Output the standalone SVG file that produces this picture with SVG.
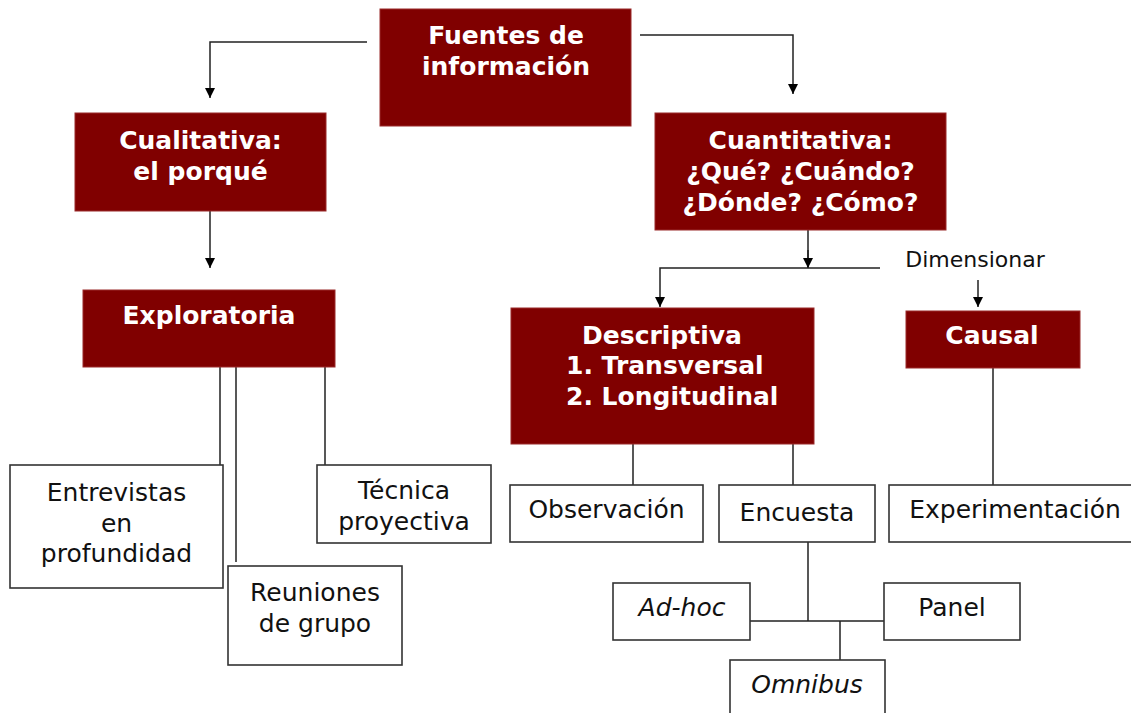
<svg xmlns="http://www.w3.org/2000/svg" width="1131" height="713" viewBox="0 0 1131 713">
<defs>
<marker id="arr" viewBox="0 0 10 10" refX="10" refY="5" markerWidth="10" markerHeight="10" markerUnits="userSpaceOnUse" orient="auto">
<path d="M0,0 L10,5 L0,10 z" fill="#000"/>
</marker>
<style>
.red{fill:#800000;stroke:#9a2a2a;stroke-width:1}
.wb{fill:#fff;stroke:#333;stroke-width:1.6}
.rt{font-family:"DejaVu Sans",Verdana,sans-serif;font-weight:bold;font-size:25px;fill:#fff;text-anchor:middle}
.vt{font-family:"DejaVu Sans",Verdana,sans-serif;font-size:25px;fill:#111;text-anchor:middle}
.tt{font-family:"DejaVu Sans",sans-serif;font-size:25px;fill:#111;text-anchor:middle}
.it{font-style:italic}
.ln{fill:none;stroke:#222;stroke-width:1.5}
</style>
</defs>
<rect width="1131" height="713" fill="#fff"/>
<g id="connectors">
<path class="ln" d="M367,42 H210 V98" marker-end="url(#arr)"/>
<path class="ln" d="M640,35 H793 V94" marker-end="url(#arr)"/>
<path class="ln" d="M210,211 V268" marker-end="url(#arr)"/>
<path class="ln" d="M808,230 V268"/>
<path class="ln" d="M808,250 V268" marker-end="url(#arr)"/>
<path class="ln" d="M880,268 H660 V307" marker-end="url(#arr)"/>
<path class="ln" d="M978,280 V307" marker-end="url(#arr)"/>
<path class="ln" d="M220,367 V465 M236,367 V562 M325,367 V465"/>
<path class="ln" d="M633,444 V485 M793,444 V485 M993,368 V485"/>
<path class="ln" d="M808,542 V621 M750,621 H884 M840,621 V660"/>
</g>
<g id="fuentes"><rect class="red" x="380" y="9" width="251" height="117"/>
<text class="rt" x="506" y="44">Fuentes de</text><text class="rt" x="506" y="75">información</text></g>
<g id="cualitativa"><rect class="red" x="75" y="113" width="251" height="98"/>
<text class="rt" x="200.5" y="149">Cualitativa:</text><text class="rt" x="200.5" y="180">el porqué</text></g>
<g id="cuantitativa"><rect class="red" x="655" y="113" width="291" height="117"/>
<text class="rt" x="800.5" y="149">Cuantitativa:</text><text class="rt" x="800.5" y="180">¿Qué? ¿Cuándo?</text><text class="rt" x="800.5" y="211">¿Dónde? ¿Cómo?</text></g>
<g id="exploratoria"><rect class="red" x="83" y="290" width="252" height="77"/>
<text class="rt" x="209" y="324">Exploratoria</text></g>
<g id="descriptiva"><rect class="red" x="511" y="308" width="303" height="136"/>
<text class="rt" x="662" y="344">Descriptiva</text><text class="rt" x="566" y="374" style="text-anchor:start">1. Transversal</text><text class="rt" x="566" y="405" style="text-anchor:start">2. Longitudinal</text></g>
<g id="causal"><rect class="red" x="906" y="311" width="174" height="57"/>
<text class="rt" x="992" y="344">Causal</text></g>
<g id="dimensionar"><text class="tt" x="975" y="267" style="font-size:22px">Dimensionar</text></g>
<g id="entrevistas"><rect class="wb" x="10" y="465" width="213" height="123"/>
<text class="vt" x="116.5" y="501">Entrevistas</text><text class="vt" x="116.5" y="532">en</text><text class="vt" x="116.5" y="562">profundidad</text></g>
<g id="reuniones"><rect class="wb" x="228" y="566" width="174" height="99"/>
<text class="vt" x="315" y="601">Reuniones</text><text class="vt" x="315" y="632">de grupo</text></g>
<g id="tecnica"><rect class="wb" x="317" y="465" width="174" height="78"/>
<text class="vt" x="404" y="499">Técnica</text><text class="vt" x="404" y="530">proyectiva</text></g>
<g id="observacion"><rect class="wb" x="510" y="485" width="193" height="57"/>
<text class="tt" x="606.5" y="518">Observación</text></g>
<g id="encuesta"><rect class="wb" x="719" y="485" width="156" height="57"/>
<text class="tt" x="797" y="521">Encuesta</text></g>
<g id="experimentacion"><rect class="wb" x="889" y="485" width="250" height="57"/>
<text class="tt" x="1015" y="518">Experimentación</text></g>
<g id="adhoc"><rect class="wb" x="613" y="583" width="137" height="57"/>
<text class="tt it" x="682" y="616">Ad-hoc</text></g>
<g id="panel"><rect class="wb" x="884" y="583" width="136" height="57"/>
<text class="tt" x="952" y="616">Panel</text></g>
<g id="omnibus"><rect class="wb" x="730" y="660" width="155" height="60"/>
<text class="tt it" x="807" y="693">Omnibus</text></g>
</svg>
